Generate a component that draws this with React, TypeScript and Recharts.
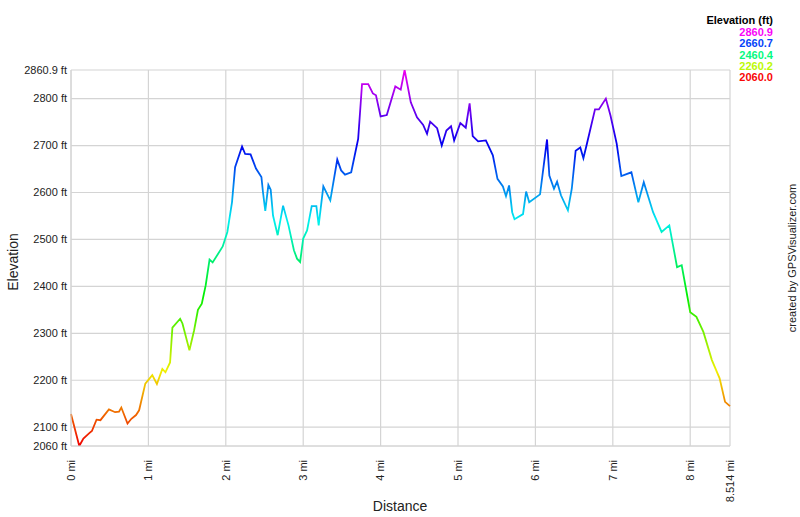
import React from 'react';
import { CartesianGrid, Line, LineChart, XAxis, YAxis } from 'recharts';

// distance along the track (mi) and elevation (ft)
const distances = [
  0, 0.107, 0.16, 0.24, 0.27, 0.33, 0.38, 0.49, 0.57, 0.62, 0.65, 0.73, 0.78, 0.84, 0.88, 0.96,
  1.05, 1.11, 1.18, 1.22, 1.28, 1.31, 1.41, 1.44, 1.53, 1.59, 1.64, 1.69, 1.74, 1.79, 1.83, 1.96,
  2.02, 2.08, 2.12, 2.21, 2.25, 2.32, 2.39, 2.46, 2.48, 2.51, 2.55, 2.58, 2.61, 2.67, 2.74, 2.81,
  2.88, 2.92, 2.96, 3.0, 3.05, 3.11, 3.17, 3.2, 3.26, 3.35, 3.44, 3.49, 3.54, 3.62, 3.71, 3.76,
  3.84, 3.9, 3.94, 4.0, 4.08, 4.19, 4.26, 4.31, 4.39, 4.47, 4.55, 4.6, 4.64, 4.73, 4.79, 4.85,
  4.91, 4.95, 5.03, 5.1, 5.15, 5.19, 5.26, 5.36, 5.45, 5.51, 5.58, 5.62, 5.66, 5.7, 5.73, 5.84,
  5.88, 5.92, 6.06, 6.15, 6.18, 6.24, 6.28, 6.33, 6.42, 6.47, 6.52, 6.58, 6.62, 6.66, 6.77, 6.82,
  6.91, 6.97, 7.05, 7.11, 7.24, 7.33, 7.4, 7.52, 7.63, 7.73, 7.83, 7.89, 8.0, 8.08, 8.17, 8.28,
  8.38, 8.45, 8.514,
];
const elevations = [
  2128, 2060, 2076, 2088, 2092, 2116, 2115, 2138, 2132, 2133, 2142, 2108, 2118, 2126, 2136, 2193,
  2211, 2192, 2224, 2217, 2238, 2312, 2331, 2321, 2264, 2306, 2350, 2363, 2402, 2457, 2451, 2485,
  2516, 2579, 2654, 2698, 2682, 2681, 2651, 2633, 2601, 2561, 2616, 2606, 2551, 2509, 2572, 2530,
  2477, 2459, 2452, 2502, 2519, 2571, 2571, 2530, 2613, 2583, 2670, 2647, 2638, 2643, 2714, 2831,
  2831, 2811, 2807, 2762, 2765, 2826, 2819, 2860.9, 2792, 2760, 2744, 2725, 2751, 2737, 2700, 2732,
  2741, 2711, 2748, 2738, 2790, 2720, 2709, 2711, 2679, 2629, 2613, 2592, 2615, 2558, 2543, 2554,
  2602, 2579, 2596, 2713, 2636, 2608, 2623, 2594, 2562, 2608, 2689, 2696, 2673, 2700, 2777, 2777,
  2800, 2764, 2704, 2635, 2643, 2579, 2622, 2558, 2516, 2530, 2441, 2445, 2345, 2335, 2303, 2243,
  2204, 2154, 2145,
];

const xTicks = [0, 1, 2, 3, 4, 5, 6, 7, 8, 8.514];
const yTicks = [2060, 2100, 2200, 2300, 2400, 2500, 2600, 2700, 2800, 2860.9];
const legendValues = ['2860.9', '2660.7', '2460.4', '2260.2', '2060.0'];
const legendHues = [300, 225, 150, 75, 0];
const hueStops = [300, 270, 240, 210, 180, 150, 120, 90, 60, 30, 0];

const data = distances.map((d, i) => ({ dist: d, elev: elevations[i] }));

const FONT = '"Liberation Sans", Arial, sans-serif';

const XTick = ({ x, y, payload }: any) => (
  <text
    x={x}
    y={y + 6}
    transform={`rotate(-90, ${x}, ${y + 6})`}
    textAnchor="end"
    dy="0.35em"
    fontSize={11}
    fontFamily={FONT}
    fill="#222"
  >
    {`${payload.value} mi`}
  </text>
);

const YTick = ({ x, y, payload }: any) => (
  <text x={x} y={y} textAnchor="end" dy="0.35em" fontSize={11} fontFamily={FONT} fill="#222">
    {`${payload.value} ft`}
  </text>
);

export default function App() {
  return (
    <div style={{ position: 'absolute', left: 0, top: 0, width: 800, height: 517, background: '#fff' }}>
      <LineChart width={800} height={517} data={data} margin={{ top: 70, right: 70, bottom: 11, left: 0 }}>
        <defs>
          <linearGradient id="elevGrad" x1="0" y1="0" x2="0" y2="1">
            {hueStops.map((h) => (
              <stop key={h} offset={1 - h / 300} stopColor={`hsl(${h}, 100%, 47%)`} />
            ))}
          </linearGradient>
        </defs>
        <CartesianGrid stroke="#d4d4d4" strokeWidth={1.2} />
        <XAxis
          dataKey="dist"
          type="number"
          domain={[0, 8.514]}
          ticks={xTicks}
          interval={0}
          height={60}
          tick={<XTick />}
          tickLine={false}
          axisLine={{ stroke: '#d4d4d4' }}
        />
        <YAxis
          dataKey="elev"
          type="number"
          domain={[2060, 2860.9]}
          ticks={yTicks}
          interval={0}
          width={71}
          tick={<YTick />}
          tickSize={4}
          tickMargin={0}
          tickLine={false}
          axisLine={{ stroke: '#d4d4d4' }}
          allowDataOverflow
        />
        <Line
          type="linear"
          dataKey="elev"
          stroke="url(#elevGrad)"
          strokeWidth={1.8}
          dot={false}
          isAnimationActive={false}
        />
      </LineChart>
      <svg width={800} height={517} style={{ position: 'absolute', left: 0, top: 0, pointerEvents: 'none' }}>
        <text x={773} y={24} textAnchor="end" fontSize={11} fontWeight="bold" fontFamily={FONT} fill="#000">
          Elevation (ft)
        </text>
        {legendValues.map((v, i) => (
          <text
            key={v}
            x={773}
            y={36 + i * 11.3}
            textAnchor="end"
            fontSize={11}
            fontWeight="bold"
            fontFamily={FONT}
            fill={`hsl(${legendHues[i]}, 95%, 50%)`}
          >
            {v}
          </text>
        ))}
        <text x={400} y={511} textAnchor="middle" fontSize={14} fontFamily={FONT} fill="#222">
          Distance
        </text>
        <text
          x={13}
          y={262}
          transform="rotate(-90, 13, 262)"
          textAnchor="middle"
          dy="0.35em"
          fontSize={14}
          fontFamily={FONT}
          fill="#222"
        >
          Elevation
        </text>
        <text
          x={792}
          y={258}
          transform="rotate(-90, 792, 258)"
          textAnchor="middle"
          dy="0.35em"
          fontSize={11}
          fontFamily={FONT}
          fill="#222"
        >
          created by GPSVisualizer.com
        </text>
      </svg>
    </div>
  );
}
